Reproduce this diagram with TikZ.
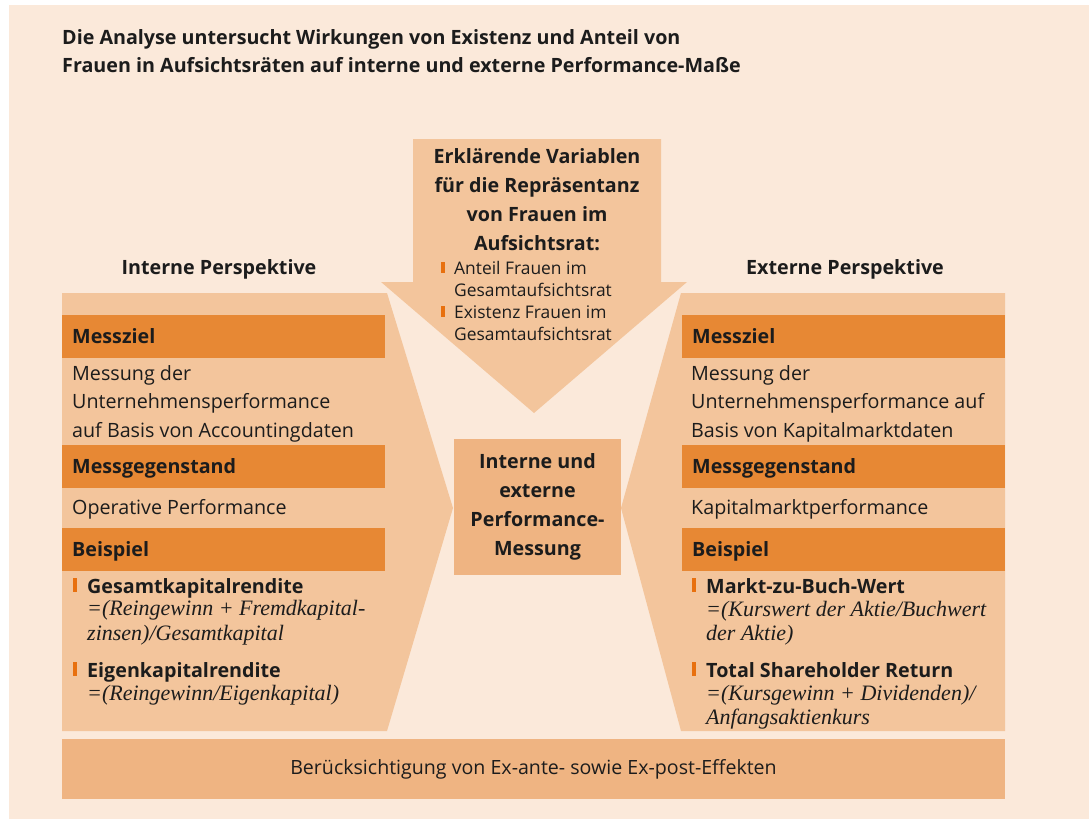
\documentclass[tikz,border=0pt]{standalone}
\usepackage{fontspec}
\setmainfont{Open Sans}
\newfontfamily\formelfont{Liberation Serif}
\usetikzlibrary{positioning}

\definecolor{hintergrund}{HTML}{FBE9DA}
\definecolor{feld}{HTML}{F3C59C}
\definecolor{kasten}{HTML}{EFB482}
\definecolor{balken}{HTML}{E78834}
\definecolor{strich}{HTML}{E8700E}
\definecolor{schrift}{HTML}{1C1C1C}

\tikzset{
  kopf/.style={anchor=base west, inner sep=0pt, text=schrift, font=\bfseries\fontsize{19.7}{23}\selectfont},
  titel/.style={anchor=base, inner sep=0pt, text=schrift, font=\bfseries\fontsize{19.7}{23}\selectfont},
  zeile/.style={anchor=base west, inner sep=0pt, text=schrift, font=\fontsize{19.7}{23}\selectfont},
  formel/.style={anchor=base west, inner sep=0pt, text=schrift, font=\formelfont\itshape\fontsize{22}{24}\selectfont},
  klein/.style={anchor=base west, inner sep=0pt, text=schrift, font=\fontsize{17.4}{19}\selectfont},
}

\newcommand{\kopfBalken}[4]{
    \fill[balken] (#2,#3) rectangle ++(323,42.5);
    \node[kopf] (#1) at (#2+10,#3+28.5) {#4}
}
\newcommand{\strichMarke}[3]{
    \fill[strich] (#1,#2) rectangle ++(4,-#3)
}

\begin{document}
\begin{tikzpicture}[x=1pt,y=-1pt]
    \useasboundingbox (0,0) rectangle (1089,819);
    \fill[white] (0,0) rectangle (1089,819);
    \fill[hintergrund] (9,5) rectangle (1089,819);

    \node[kopf] (titel1) at (62,44) {Die Analyse untersucht Wirkungen von Existenz und Anteil von};
    \node[kopf] (titel2) at (62,72) {Frauen in Aufsichtsräten auf interne und externe Performance-Maße};

    \fill[feld] (62,293) -- (387,293) -- (453,508) -- (387,731) -- (62,731) -- cycle;
    \fill[feld] (1005,293) -- (681,293) -- (621,508) -- (681,731) -- (1005,731) -- cycle;
    \fill[feld] (413,139) -- (661,139) -- (661,282) -- (687,282) -- (534,413) -- (381,282) -- (413,282) -- cycle;

    \foreach \t [count=\i] in {Erklärende Variablen, für die Repräsentanz, von Frauen im, Aufsichtsrat:}
        \node[titel] (pfeil\i) at (537,163+29*\i-29) {\t};
    \strichMarke{441}{273}{11};
    \strichMarke{441}{317}{11};
    \foreach \t [count=\i] in {Anteil Frauen im, Gesamtaufsichtsrat, Existenz Frauen im, Gesamtaufsichtsrat}
        \node[klein] (var\i) at (454,274+22.3*\i-22.3) {\t};

    \node[titel] (intern) at (219,274) {Interne Perspektive};
    \node[titel] (extern) at (845,274) {Externe Perspektive};

    \kopfBalken{lziel}{62}{315}{Messziel};
    \foreach \t [count=\i] in {Messung der, Unternehmensperformance, auf Basis von Accountingdaten}
        \node[zeile] (lmess\i) at (72,380+28.5*\i-28.5) {\t};
    \kopfBalken{lgeg}{62}{445}{Messgegenstand};
    \node[zeile] (lop) at (72,514) {Operative Performance};
    \kopfBalken{lbsp}{62}{528}{Beispiel};
    \strichMarke{73}{592}{14};
    \node[kopf] (lgkr) at (87,593) {Gesamtkapitalrendite};
    \node[formel] (lgkr1) at (87,615) {=(Reingewinn + Fremdkapital-};
    \node[formel] (lgkr2) at (87,640) {zinsen)/Gesamtkapital};
    \strichMarke{73}{676}{14};
    \node[kopf] (lekr) at (87,677) {Eigenkapitalrendite};
    \node[formel] (lekr1) at (87,700) {=(Reingewinn/Eigenkapital)};

    \kopfBalken{rziel}{682}{315}{Messziel};
    \foreach \t [count=\i] in {Messung der, Unternehmensperformance auf, Basis von Kapitalmarktdaten}
        \node[zeile] (rmess\i) at (691,380+28.5*\i-28.5) {\t};
    \kopfBalken{rgeg}{682}{445}{Messgegenstand};
    \node[zeile] (rkap) at (691,514) {Kapitalmarktperformance};
    \kopfBalken{rbsp}{682}{528}{Beispiel};
    \strichMarke{692}{592}{14};
    \node[kopf] (rmbw) at (706,593) {Markt-zu-Buch-Wert};
    \node[formel] (rmbw1) at (706,616) {=(Kurswert der Aktie/Buchwert};
    \node[formel] (rmbw2) at (706,640) {der Aktie)};
    \strichMarke{692}{676}{14};
    \node[kopf] (rtsr) at (706,677) {Total Shareholder Return};
    \node[formel] (rtsr1) at (706,700) {=(Kursgewinn + Dividenden)/};
    \node[formel] (rtsr2) at (706,724) {Anfangsaktienkurs};

    \node[fill=kasten, minimum width=167pt, minimum height=136pt, align=center, text=schrift, font=\bfseries\fontsize{19.7}{29}\selectfont] (mitte) at (537.5,507) {Interne und\\externe\\Performance-\\Messung};

    \node[fill=kasten, minimum width=943pt, minimum height=60pt, text=schrift, font=\fontsize{19.6}{22}\selectfont] (fuss) at (533.5,769) {Berücksichtigung von Ex-ante- sowie Ex-post-Effekten};
\end{tikzpicture}
\end{document}
